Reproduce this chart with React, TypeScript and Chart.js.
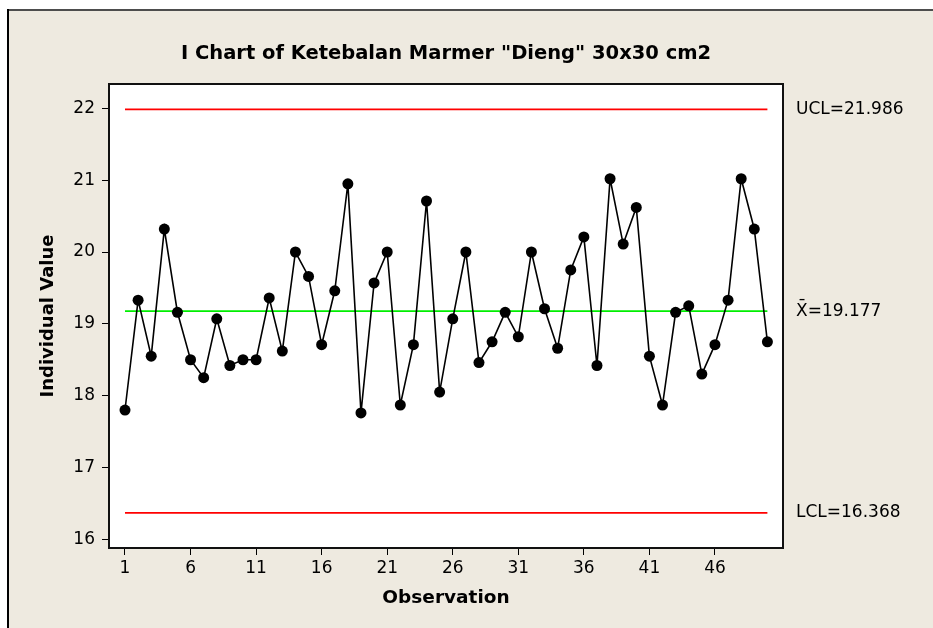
import React, { useEffect, useRef } from "react";
import { Chart, registerables } from "chart.js";

Chart.register(...registerables);

const observations = [
  1, 2, 3, 4, 5, 6, 7, 8, 9, 10, 11, 12, 13, 14, 15, 16, 17, 18, 19, 20, 21, 22, 23, 24, 25,
  26, 27, 28, 29, 30, 31, 32, 33, 34, 35, 36, 37, 38, 39, 40, 41, 42, 43, 44, 45, 46, 47, 48, 49, 50,
];
const individualValues = [
  17.8, 19.33, 18.55, 20.32, 19.16, 18.5, 18.25, 19.07, 18.42, 18.5,
  18.5, 19.36, 18.62, 20.0, 19.66, 18.71, 19.46, 20.95, 17.76, 19.57,
  20.0, 17.87, 18.71, 20.71, 18.05, 19.07, 20.0, 18.46, 18.75, 19.16,
  18.82, 20.0, 19.21, 18.66, 19.75, 20.21, 18.42, 21.02, 20.11, 20.62,
  18.55, 17.87, 19.16, 19.25, 18.3, 18.71, 19.33, 21.02, 20.32, 18.75,
];
const UCL = 21.986;
const CENTER = 19.177;
const LCL = 16.368;
const limitLabels = ["UCL=21.986", "X\u0304=19.177", "LCL=16.368"];
const limitValues = [UCL, CENTER, LCL];
const xTickValues = [1, 6, 11, 16, 21, 26, 31, 36, 41, 46];
const yTickValues = [16, 17, 18, 19, 20, 21, 22];
const chartTitle = 'I Chart of Ketebalan Marmer "Dieng" 30x30 cm2';
const xTitle = "Observation";
const yTitle = "Individual Value";

const FONT = "'DejaVu Sans', Verdana, sans-serif";
const BEIGE = "rgb(238,234,224)";

const framePlugin = {
  id: "minitabFrame",
  beforeDraw(chart: any) {
    const { ctx, width, height, chartArea: a } = chart;
    ctx.save();
    ctx.fillStyle = "#ffffff";
    ctx.fillRect(0, 0, width, height);
    ctx.fillStyle = BEIGE;
    ctx.fillRect(8, 9, width - 8, height - 9);
    ctx.fillStyle = "#4d4d4d";
    ctx.fillRect(8, 9, width - 8, 2);
    ctx.fillStyle = "#000000";
    ctx.fillRect(7, 9, 2, height - 9);
    ctx.fillStyle = "#ffffff";
    ctx.fillRect(a.left, a.top, a.right - a.left, a.bottom - a.top);
    ctx.restore();
  },
  afterDraw(chart: any) {
    const { ctx, chartArea: a } = chart;
    const yScale = chart.scales.y;
    ctx.save();
    ctx.strokeStyle = "#111111";
    ctx.lineWidth = 2;
    ctx.strokeRect(a.left, a.top, a.right - a.left, a.bottom - a.top);
    ctx.fillStyle = "#000000";
    ctx.textBaseline = "middle";
    ctx.textAlign = "center";
    ctx.font = `bold 19.5px ${FONT}`;
    ctx.fillText(chartTitle, (a.left + a.right) / 2, 54);
    ctx.font = `17px ${FONT}`;
    ctx.textAlign = "left";
    limitLabels.forEach((lbl, i) => {
      ctx.fillText(lbl, a.right + 13, yScale.getPixelForValue(limitValues[i]));
    });
    ctx.restore();
  },
};

export default function App() {
  const canvasRef = useRef<HTMLCanvasElement | null>(null);

  useEffect(() => {
    const canvas = canvasRef.current;
    if (!canvas) return;
    const first = observations[0];
    const last = observations[observations.length - 1];
    const limitLine = (v: number, color: string) => ({
      type: "line" as const,
      data: [
        { x: first, y: v },
        { x: last, y: v },
      ],
      borderColor: color,
      borderWidth: 1.6,
      pointRadius: 0,
      fill: false,
    });
    const chart = new Chart(canvas, {
      type: "line",
      data: {
        datasets: [
          {
            data: observations.map((o, i) => ({ x: o, y: individualValues[i] })),
            borderColor: "#000000",
            borderWidth: 1.6,
            pointRadius: 5.5,
            pointBackgroundColor: "#000000",
            pointBorderColor: "#000000",
            pointBorderWidth: 0,
            fill: false,
            tension: 0,
          },
          limitLine(UCL, "#ff0000"),
          limitLine(CENTER, "#00ee00"),
          limitLine(LCL, "#ff0000"),
        ],
      },
      options: {
        responsive: false,
        animation: false,
        events: [],
        layout: { padding: { left: 0, right: 150, top: 84, bottom: 0 } },
        plugins: {
          legend: { display: false },
          tooltip: { enabled: false },
          title: { display: false },
        },
        scales: {
          x: {
            type: "linear",
            min: -0.22,
            max: 51.19,
            afterBuildTicks: (s: any) => {
              s.ticks = xTickValues.map((v) => ({ value: v }));
            },
            afterFit: (s: any) => {
              s.height = 80;
            },
            grid: {
              drawOnChartArea: false,
              drawTicks: true,
              tickLength: 7,
              color: "#000000",
              lineWidth: 1,
            },
            border: { display: false },
            ticks: {
              color: "#000000",
              font: { family: FONT, size: 17 },
              padding: 3,
              autoSkip: false,
              maxRotation: 0,
              callback: (v: any) => String(v),
            },
            title: {
              display: true,
              text: xTitle,
              color: "#000000",
              font: { family: FONT, size: 18.5, weight: "bold", lineHeight: 1.2 },
              padding: { top: 0, bottom: 19 },
            },
          },
          y: {
            type: "linear",
            min: 15.879,
            max: 22.339,
            afterBuildTicks: (s: any) => {
              s.ticks = yTickValues.map((v) => ({ value: v }));
            },
            afterFit: (s: any) => {
              s.width = 109;
            },
            grid: {
              drawOnChartArea: false,
              drawTicks: true,
              tickLength: 7,
              color: "#000000",
              lineWidth: 1,
            },
            border: { display: false },
            ticks: {
              color: "#000000",
              font: { family: FONT, size: 17 },
              padding: 7,
              callback: (v: any) => String(v),
            },
            title: {
              display: true,
              text: yTitle,
              color: "#000000",
              font: { family: FONT, size: 18, weight: "bold", lineHeight: 1.2 },
              padding: { top: 38, bottom: 0 },
            },
          },
        },
      },
      plugins: [framePlugin],
    });
    return () => chart.destroy();
  }, []);

  return (
    <div style={{ position: "fixed", left: 0, top: 0, width: 933, height: 628 }}>
      <canvas ref={canvasRef} width={933} height={628} style={{ display: "block" }} />
    </div>
  );
}
